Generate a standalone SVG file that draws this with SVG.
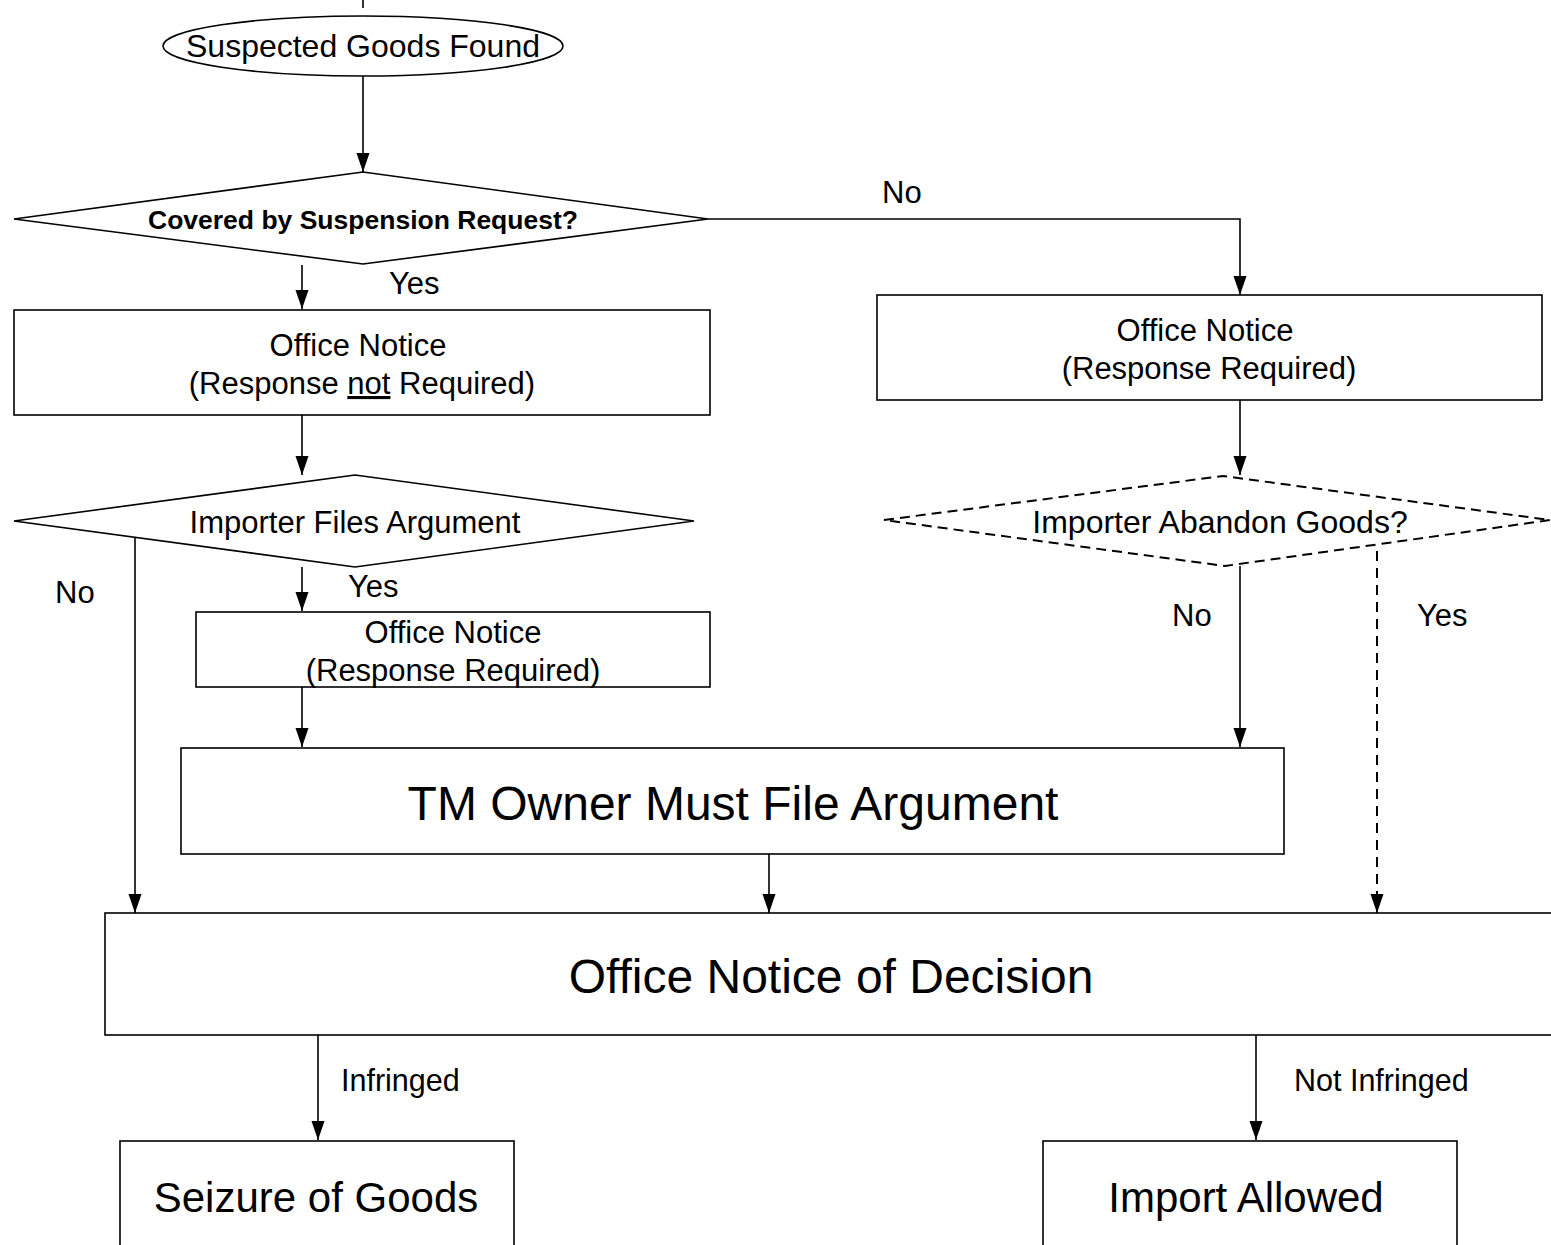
<svg xmlns="http://www.w3.org/2000/svg" width="1551" height="1245" viewBox="0 0 1551 1245">
<style>
  .shape { fill: #fff; stroke: #000; stroke-width: 1.6; }
  .dash { fill: #fff; stroke: #000; stroke-width: 2; stroke-dasharray: 10 6; }
  .conn { fill: none; stroke: #000; stroke-width: 1.6; }
  .dconn { fill: none; stroke: #000; stroke-width: 2; stroke-dasharray: 10 7; }
  text { font-family: "Liberation Sans", Arial, sans-serif; fill: #000; }
  .t { font-size: 31px; }
  .t2 { font-size: 32px; }
  .c { text-anchor: middle; }
  .b { font-size: 26.5px; font-weight: bold; }
  .big { font-size: 48px; }
  .mid { font-size: 42px; }
  .sm { font-size: 30.5px; }
</style>
<defs>
  <marker id="ah" markerUnits="userSpaceOnUse" markerWidth="20" markerHeight="14" viewBox="0 0 20 14" refX="19" refY="7" orient="auto">
    <path d="M0,0.5 L19,7 L0,13.5 Z" fill="#000"/>
  </marker>
</defs>

<g id="connectors">
  <line class="conn" x1="363" y1="0" x2="363" y2="8"/>
  <line class="conn" x1="363" y1="76" x2="363" y2="172" marker-end="url(#ah)"/>
  <polyline class="conn" points="708,219 1240,219 1240,295" marker-end="url(#ah)"/>
  <line class="conn" x1="302" y1="265" x2="302" y2="309" marker-end="url(#ah)"/>
  <line class="conn" x1="302" y1="415" x2="302" y2="475" marker-end="url(#ah)"/>
  <line class="conn" x1="135" y1="538" x2="135" y2="913" marker-end="url(#ah)"/>
  <line class="conn" x1="302" y1="567" x2="302" y2="611" marker-end="url(#ah)"/>
  <line class="conn" x1="302" y1="687" x2="302" y2="747" marker-end="url(#ah)"/>
  <line class="conn" x1="1240" y1="400" x2="1240" y2="475" marker-end="url(#ah)"/>
  <line class="conn" x1="1240" y1="566" x2="1240" y2="747" marker-end="url(#ah)"/>
  <line class="dconn" x1="1377" y1="551" x2="1377" y2="895"/>
  <line class="conn" x1="1377" y1="895" x2="1377" y2="913" marker-end="url(#ah)"/>
  <line class="conn" x1="769" y1="854" x2="769" y2="913" marker-end="url(#ah)"/>
  <line class="conn" x1="318" y1="1035" x2="318" y2="1140" marker-end="url(#ah)"/>
  <line class="conn" x1="1256" y1="1035" x2="1256" y2="1140" marker-end="url(#ah)"/>
  <text class="t" x="882" y="203">No</text>
  <text class="t" x="389" y="294">Yes</text>
  <text class="t" x="55" y="603">No</text>
  <text class="t" x="348" y="597">Yes</text>
  <text class="t" x="1172" y="626">No</text>
  <text class="t" x="1417" y="626">Yes</text>
  <text class="sm" x="341" y="1091">Infringed</text>
  <text class="sm" x="1294" y="1091">Not Infringed</text>
</g>

<g id="start">
  <ellipse class="shape" cx="363" cy="46" rx="200" ry="30"/>
  <text class="t2 c" x="363" y="57">Suspected Goods Found</text>
</g>

<g id="covered">
  <polygon class="shape" points="14,219 363,172 708,219 363,264"/>
  <text class="b c" x="363" y="229">Covered by Suspension Request?</text>
</g>

<g id="notice-not-required">
  <rect class="shape" x="14" y="310" width="696" height="105"/>
  <text class="t c" x="358" y="356">Office Notice</text>
  <text class="t c" x="362" y="394">(Response <tspan text-decoration="underline">not</tspan> Required)</text>
</g>

<g id="importer-files">
  <polygon class="shape" points="14,521 355,475 694,521 355,567"/>
  <text class="t c" x="355" y="533">Importer Files Argument</text>
</g>

<g id="notice-required-left">
  <rect class="shape" x="196" y="612" width="514" height="75"/>
  <text class="t c" x="453" y="643">Office Notice</text>
  <text class="t c" x="453" y="681">(Response Required)</text>
</g>

<g id="tm-owner">
  <rect class="shape" x="181" y="748" width="1103" height="106"/>
  <text class="big c" x="733" y="820">TM Owner Must File Argument</text>
</g>

<g id="notice-required-right">
  <rect class="shape" x="877" y="295" width="665" height="105"/>
  <text class="t c" x="1205" y="341">Office Notice</text>
  <text class="t c" x="1209" y="379">(Response Required)</text>
</g>

<g id="abandon">
  <polygon class="dash" points="884,520 1223,476 1550,520 1225,566"/>
  <text class="t2 c" x="1220" y="533">Importer Abandon Goods?</text>
</g>

<g id="decision">
  <rect class="shape" x="105" y="913" width="1460" height="122"/>
  <text class="big c" x="831" y="993">Office Notice of Decision</text>
</g>

<g id="seizure">
  <rect class="shape" x="120" y="1141" width="394" height="120"/>
  <text class="mid c" x="316" y="1212">Seizure of Goods</text>
</g>

<g id="import-allowed">
  <rect class="shape" x="1043" y="1141" width="414" height="120"/>
  <text class="mid c" x="1246" y="1212">Import Allowed</text>
</g>
</svg>
